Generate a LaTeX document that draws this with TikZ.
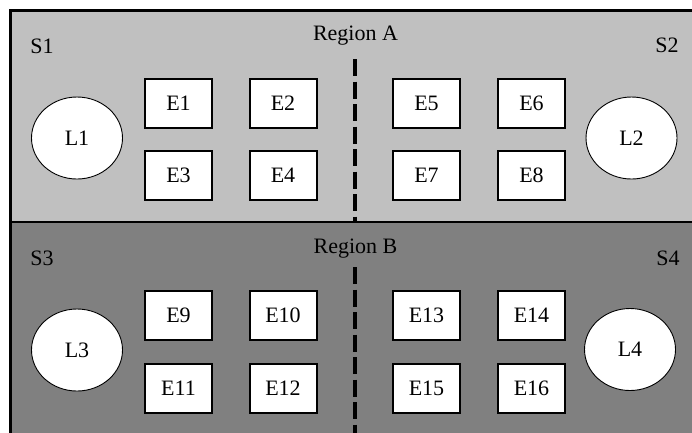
\documentclass[tikz,border=0pt]{standalone}
\usepackage{fontspec}
\setmainfont{Liberation Serif}
\usetikzlibrary{shapes.geometric}
\definecolor{regiona}{RGB}{192,192,192}
\definecolor{regionb}{RGB}{128,128,128}
\tikzset{
  ebox/.style={draw,line width=2pt,fill=white,minimum width=67pt,minimum height=49pt,inner sep=0pt},
  lnode/.style={ellipse,draw,line width=0.9pt,fill=white,minimum width=91pt,minimum height=82pt,inner sep=0pt},
  divider/.style={line width=4pt,dash pattern=on 17pt off 5.5pt},
  lbl/.style={anchor=base}
}
\begin{document}
\begin{tikzpicture}[x=1pt,y=-1pt,font=\fontsize{22}{26}\selectfont]
\useasboundingbox (0,0) rectangle (692,432);
\clip (0,0) rectangle (692,432);
% the two regions
\fill[regiona] (10,10) rectangle (700,222);
\fill[regionb] (10,222) rectangle (700,440);
\draw[line width=3pt] (700,10) -- (10,10) -- (10,440);
\draw[line width=2.5pt] (10,222) -- (700,222);
\draw[divider] (355,59) -- (355,222);
\draw[divider] (355,267) -- (355,440);
% labels
\node[lbl] (ra) at (355.5,40) {Region A};
\node[lbl] (rb) at (355.5,253) {Region B};
\node[lbl] (s1) at (42,53) {S1};
\node[lbl] (s2) at (667,52) {S2};
\node[lbl] (s3) at (42,265) {S3};
\node[lbl] (s4) at (668,265) {S4};
% ellipses
\node[lnode] (l1) at (77,138) {L1};
\node[lnode] (l2) at (631.5,138) {L2};
\node[lnode] (l3) at (77,350) {L3};
\node[lnode] (l4) at (630,349.5) {L4};
% boxes, region A
\node[ebox] (e1) at (178.5,103.5) {E1};
\node[ebox] (e2) at (283,103.5) {E2};
\node[ebox] (e3) at (178.5,175.5) {E3};
\node[ebox] (e4) at (283,175.5) {E4};
\node[ebox] (e5) at (426.5,103.5) {E5};
\node[ebox] (e6) at (531.5,103.5) {E6};
\node[ebox] (e7) at (426.5,175.5) {E7};
\node[ebox] (e8) at (531.5,175.5) {E8};
% boxes, region B
\node[ebox] (e9) at (178.5,315) {E9};
\node[ebox] (e10) at (283,315) {E10};
\node[ebox] (e11) at (178.5,388) {E11};
\node[ebox] (e12) at (283,388) {E12};
\node[ebox] (e13) at (426.5,315) {E13};
\node[ebox] (e14) at (531.5,315) {E14};
\node[ebox] (e15) at (426.5,388) {E15};
\node[ebox] (e16) at (531.5,388) {E16};
\end{tikzpicture}
\end{document}
